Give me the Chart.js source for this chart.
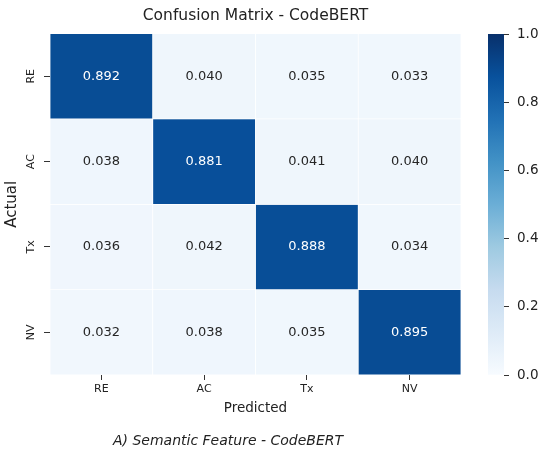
<!DOCTYPE html>
<html>
<head>
<meta charset="utf-8">
<script src="https://cdn.jsdelivr.net/npm/chart.js@4.4.1/dist/chart.umd.min.js"></script>
<style>
    html, body { margin: 0; padding: 0; background: #ffffff; }
    #wrap { position: relative; width: 556px; height: 459px; }
    #matrixChart { position: absolute; left: 0; top: 0; }
    #colorbarChart { position: absolute; left: 470px; top: 0; }
</style>
</head>
<body>
<div id="wrap">
    <canvas id="matrixChart" width="511" height="459"></canvas>
    <canvas id="colorbarChart" width="86" height="459"></canvas>
</div>
<script>
// labels for both axes (actual rows / predicted columns)
const categories = ['RE', 'AC', 'Tx', 'NV'];

// normalized confusion matrix rows (actual)
const rowRE = [0.892, 0.040, 0.035, 0.033];
const rowAC = [0.038, 0.881, 0.041, 0.040];
const rowTx = [0.036, 0.042, 0.888, 0.034];
const rowNV = [0.032, 0.038, 0.035, 0.895];
const matrixRows = [rowRE, rowAC, rowTx, rowNV];

// colorbar ticks
const colorbarTicks = [0.0, 0.2, 0.4, 0.6, 0.8, 1.0];

const titleText = 'Confusion Matrix - CodeBERT';
const captionText = 'A) Semantic Feature - CodeBERT';

Chart.defaults.font.family = '"DejaVu Sans", sans-serif';
Chart.defaults.color = '#222222';

// matplotlib "Blues" colormap stops
const bluesStops = [
    [247, 251, 255], [222, 235, 247], [198, 219, 239], [158, 202, 225],
    [107, 174, 214], [66, 146, 198], [33, 113, 181], [8, 81, 156], [8, 48, 107]
];

function bluesColor(v) {
    const t = Math.max(0, Math.min(1, v)) * (bluesStops.length - 1);
    const i = Math.min(Math.floor(t), bluesStops.length - 2);
    const f = t - i;
    const a = bluesStops[i], b = bluesStops[i + 1];
    const c = a.map((x, k) => Math.round(x + (b[k] - x) * f));
    return `rgb(${c[0]}, ${c[1]}, ${c[2]})`;
}

// CELL VALUE LABELS + CAPTION
const cellTextPlugin = {
    id: 'cellText',
    afterDatasetsDraw(chart) {
        const ctx = chart.ctx;
        ctx.save();
        ctx.font = '13px "DejaVu Sans"';
        ctx.textAlign = 'center';
        ctx.textBaseline = 'middle';
        matrixRows.forEach((row, i) => {
            const meta = chart.getDatasetMeta(i);
            meta.data.forEach((bar, j) => {
                const p = bar.getProps(['x', 'y', 'base'], true);
                ctx.fillStyle = row[j] > 0.5 ? '#ffffff' : '#262626';
                ctx.fillText(row[j].toFixed(3), p.x, (p.y + p.base) / 2);
            });
        });
        ctx.restore();
    },
    afterDraw(chart) {
        const ctx = chart.ctx;
        ctx.save();
        ctx.font = 'italic 14px "DejaVu Sans"';
        ctx.fillStyle = '#222222';
        ctx.textAlign = 'center';
        ctx.textBaseline = 'middle';
        ctx.fillText(captionText, 228, 441);
        ctx.restore();
    }
};

new Chart(document.getElementById('matrixChart'), {
    type: 'bar',
    data: {
        labels: categories,
        datasets: matrixRows.map((row, i) => ({
            label: categories[i],
            data: row.map(() => 1),
            backgroundColor: row.map(v => bluesColor(v)),
            borderColor: '#ffffff',
            borderWidth: 0.75,
            borderSkipped: false,
            barPercentage: 1,
            categoryPercentage: 1
        }))
    },
    options: {
        responsive: false,
        animation: false,
        devicePixelRatio: 1,
        layout: { padding: { left: 0, top: 0, right: 0, bottom: 42 } },
        plugins: {
            legend: { display: false },
            tooltip: { enabled: false },
            title: {
                display: true,
                text: titleText,
                color: '#222222',
                font: { size: 15.5, weight: 'normal' },
                padding: { top: 7, bottom: 8 }
            }
        },
        scales: {
            x: {
                stacked: true,
                grid: { offset: false, drawOnChartArea: false, tickLength: 5, color: '#333333' },
                border: { display: false },
                ticks: { font: { size: 11 }, padding: 3, color: '#222222' },
                title: { display: true, text: 'Predicted', font: { size: 13.5 }, padding: { top: 0, bottom: 0 } },
                afterFit: scale => { scale.height = 42; }
            },
            y: {
                stacked: true,
                min: 0,
                max: 4,
                reverse: true,
                afterBuildTicks: scale => {
                    scale.ticks = categories.map((c, i) => ({ value: i + 0.5 }));
                },
                grid: { drawOnChartArea: false, tickLength: 6, color: '#333333' },
                border: { display: false },
                ticks: {
                    font: { size: 11 },
                    color: '#222222',
                    minRotation: 90,
                    maxRotation: 90,
                    crossAlign: 'center',
                    padding: 5,
                    callback: v => categories[Math.floor(v)]
                },
                title: { display: true, text: 'Actual', font: { size: 15 }, padding: { top: 3, bottom: 0 } },
                afterFit: scale => { scale.width = 50; }
            },
            // empty spacer on the right so the title centres over the cells
            spacer: {
                type: 'linear',
                position: 'right',
                display: true,
                grid: { display: false },
                border: { display: false },
                ticks: { display: false },
                afterFit: scale => { scale.width = 50; }
            }
        }
    },
    plugins: [cellTextPlugin]
});

// COLORBAR
new Chart(document.getElementById('colorbarChart'), {
    type: 'bar',
    data: {
        labels: ['scale'],
        datasets: [{
            data: [1],
            barPercentage: 1,
            categoryPercentage: 1,
            backgroundColor: context => {
                const area = context.chart.chartArea;
                if (!area) return bluesColor(0.5);
                const g = context.chart.ctx.createLinearGradient(0, area.bottom, 0, area.top);
                bluesStops.forEach((s, i) => {
                    g.addColorStop(i / (bluesStops.length - 1), `rgb(${s[0]}, ${s[1]}, ${s[2]})`);
                });
                return g;
            }
        }]
    },
    options: {
        responsive: false,
        animation: false,
        devicePixelRatio: 1,
        layout: { padding: { left: 18, top: 34, right: 0, bottom: 84 } },
        plugins: { legend: { display: false }, tooltip: { enabled: false } },
        scales: {
            x: { display: false },
            y: {
                position: 'right',
                min: 0,
                max: 1,
                afterBuildTicks: scale => {
                    scale.ticks = colorbarTicks.map(v => ({ value: v }));
                },
                grid: { drawOnChartArea: false, tickLength: 5, color: '#333333' },
                border: { display: false },
                ticks: { font: { size: 13.5 }, color: '#222222', padding: 8, callback: v => v.toFixed(1) },
                afterFit: scale => { scale.width = 52; }
            }
        }
    }
});
</script>
</body>
</html>
